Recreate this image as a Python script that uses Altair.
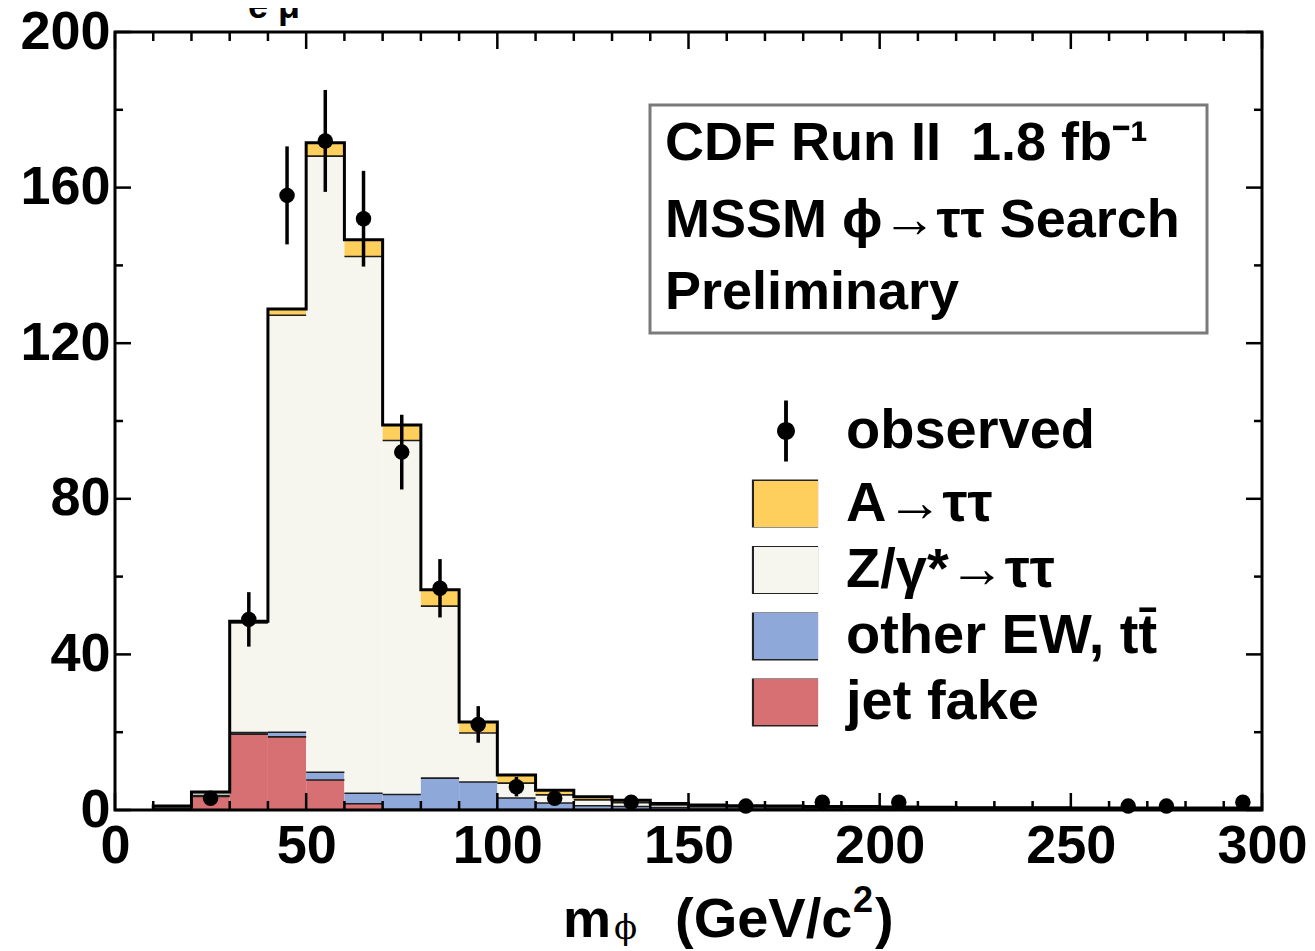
import altair as alt
import pandas as pd

# ---------------- data ----------------
bin_lo = list(range(10, 300, 10))          # 10 GeV bins from 10 to 300
jet = [0.3, 3.5, 19.5, 18.8, 7.7, 1.6, 0.2, 0.1, 0.1, 0.1, 0.1, 0.1, 0.1, 0.0, 0.0,
       0.0, 0.0, 0.0, 0.0, 0.0, 0.0, 0.0, 0.0, 0.0, 0.0, 0.0, 0.0, 0.0, 0.0]
ew = [0.2, 0.2, 0.4, 1.2, 2.0, 2.7, 3.8, 8.1, 7.1, 3.0, 1.7, 1.0, 0.8, 0.6, 0.5,
      0.5, 0.4, 0.4, 0.4, 0.3, 0.3, 0.3, 0.3, 0.3, 0.2, 0.2, 0.2, 0.2, 0.2]
ztt = [0.5, 0.8, 28.2, 107.2, 158.4, 138.0, 91.0, 44.2, 12.6, 3.8, 2.1, 1.5, 1.0, 0.7, 0.5,
       0.4, 0.4, 0.3, 0.3, 0.3, 0.2, 0.2, 0.2, 0.2, 0.2, 0.2, 0.2, 0.2, 0.2]
asig = [0.0, 0.1, 0.4, 1.6, 3.4, 4.3, 4.0, 4.2, 2.8, 2.1, 1.2, 0.8, 0.6, 0.4, 0.3,
        0.2, 0.2, 0.2, 0.2, 0.2, 0.2, 0.1, 0.1, 0.1, 0.1, 0.1, 0.1, 0.1, 0.1]

obs_x = [25, 35, 45, 55, 65, 75, 85, 95, 105, 115, 135, 165, 185, 205, 265, 275, 295]
obs_n = [3, 49, 158, 172, 152, 92, 57, 22, 6, 3, 2, 1, 2, 2, 1, 1, 2]
obs_err = [1.7, 7.0, 12.6, 13.1, 12.3, 9.6, 7.5, 4.7, 2.5, 1.7, 1.4, 1.0, 1.4, 1.4, 1.0, 1.0, 1.4]

stack_names = ["jet fake", "other EW, tt\u0304", "Z/\u03b3*\u2192\u03c4\u03c4", "A\u2192\u03c4\u03c4"]
legend_order = ["observed", "A\u2192\u03c4\u03c4", "Z/\u03b3*\u2192\u03c4\u03c4", "other EW, tt\u0304", "jet fake"]
legend_colors = ["#000000", "#FFCF5E", "#F6F6EE", "#8FA8DA", "#D77073"]

x_major = [0, 50, 100, 150, 200, 250, 300]
x_minor = [v for v in range(10, 300, 10) if v % 50 != 0]
y_major = [0, 40, 80, 120, 160, 200]
y_minor = [20, 60, 100, 140, 180]

# ---------------- derived tables ----------------
rows = []
totals = []
for i, lo in enumerate(bin_lo):
    base = 0.0
    for name, arr in zip(stack_names, [jet, ew, ztt, asig]):
        v = arr[i]
        if v > 0:
            rows.append(dict(lo=lo, hi=lo + 10, y0=base, y1=base + v, comp=name))
        base += v
    totals.append(base)
stack = pd.DataFrame(rows)
step = pd.DataFrame({"x": [bin_lo[0]] + bin_lo + [300], "t": [0.0] + totals + [totals[-1]]})
obs = pd.DataFrame({"x": obs_x, "n": obs_n,
                    "lo": [n - e for n, e in zip(obs_n, obs_err)],
                    "hi": [n + e for n, e in zip(obs_n, obs_err)]})

W, H = 1147, 778
FONT = "Liberation Sans"
xs = alt.Scale(domain=[0, 300], nice=False, zero=False)
ys = alt.Scale(domain=[0, 200], nice=False)

ax_x = alt.Axis(values=x_major, ticks=False, domain=False, grid=False, title=None,
                labelFont=FONT, labelFontSize=54, labelFontWeight="bold",
                labelColor="black", labelPadding=9, labelOverlap=False,
                labelFlush=False, labelBound=False)
ax_y = alt.Axis(values=y_major, ticks=False, domain=False, grid=False, title=None,
                labelFont=FONT, labelFontSize=54, labelFontWeight="bold",
                labelColor="black", labelPadding=5, labelOverlap=False,
                labelFlush=False, labelBound=False)


def X(f):
    return alt.X(f, scale=xs, axis=ax_x)


def Y(f):
    return alt.Y(f, scale=ys, axis=ax_y)


rect_path = "M-1,-0.72H1V0.72H-1Z"
obs_path = ("M-0.06,-0.95H0.06V0.95H-0.06Z "
            "M0.28,0A0.28,0.28 0 1 1 -0.28,0A0.28,0.28 0 1 1 0.28,0Z")

leg = alt.Legend(title=None, orient="none", legendX=638, legendY=366,
                 symbolSize=4096, symbolStrokeColor="#222222", symbolStrokeWidth=2,
                 symbolOpacity=1,
                 labelFont=FONT, labelFontSize=56, labelFontWeight="bold",
                 labelColor="black", labelOffset=27, rowPadding=5, padding=0,
                 labelLimit=800)
color_enc = alt.Color("comp:N", scale=alt.Scale(domain=legend_order, range=legend_colors),
                      legend=leg)

# legend-only layer (placed outside the drawing area)
legend_dummy = alt.Chart(pd.DataFrame({"comp": ["observed"]})).mark_point(
    filled=True, stroke="#222222", strokeWidth=2).encode(
    x=alt.value(-3000), y=alt.value(-3000),
    color=color_enc,
    shape=alt.Shape("comp:N", scale=alt.Scale(domain=legend_order,
                                              range=[obs_path] + [rect_path] * 4),
                    legend=leg),
)

bars = alt.Chart(stack).mark_rect().encode(
    x=X("lo:Q"), x2="hi:Q", y=Y("y0:Q"), y2="y1:Q", color=color_enc)

tops = alt.Chart(stack).mark_rule(color="#1e1e1e", strokeWidth=1.6).encode(
    x=X("lo:Q"), x2="hi:Q", y=Y("y1:Q"))

outline = alt.Chart(step).mark_line(interpolate="step-after", color="black",
                                    strokeWidth=3).encode(x=X("x:Q"), y=Y("t:Q"))

errs = alt.Chart(obs).mark_rule(color="black", strokeWidth=3.5).encode(
    x=X("x:Q"), y=Y("lo:Q"), y2="hi:Q")

pts = alt.Chart(obs).mark_circle(color="black", opacity=1, size=240).encode(
    x=X("x:Q"), y=Y("n:Q"))


def xticks(vals, length):
    d = pd.DataFrame({"v": vals})
    base = alt.Chart(d).mark_rule(color="black", strokeWidth=2.5)
    return [base.encode(x=X("v:Q"), y=alt.value(H), y2=alt.value(H - length)),
            base.encode(x=X("v:Q"), y=alt.value(0), y2=alt.value(length))]


def yticks(vals, length):
    d = pd.DataFrame({"v": vals})
    base = alt.Chart(d).mark_rule(color="black", strokeWidth=2.5)
    return [base.encode(y=Y("v:Q"), x=alt.value(0), x2=alt.value(length)),
            base.encode(y=Y("v:Q"), x=alt.value(W), x2=alt.value(W - length))]


one = pd.DataFrame({"a": [0]})


def txt(s, x, y, size, weight="bold", font=FONT, align="left", baseline="alphabetic"):
    return alt.Chart(one).mark_text(text=s, font=font, fontSize=size, fontWeight=weight,
                                    color="black", align=align, baseline=baseline).encode(
        x=alt.value(x), y=alt.value(y))


def outline_box(x, x2, y, y2, color, width):
    return alt.Chart(one).mark_rect(fill="white", fillOpacity=0, stroke=color,
                                    strokeWidth=width).encode(
        x=alt.value(x), x2=alt.value(x2), y=alt.value(y), y2=alt.value(y2))


box = alt.Chart(one).mark_rect(fill="white", stroke="#7a7a7a", strokeWidth=3).encode(
    x=alt.value(535), x2=alt.value(1092), y=alt.value(73), y2=alt.value(301))

frame = outline_box(0, W, 0, H, "black", 3)

# dark outlines round the legend's colour swatches
swatch_frames = [outline_box(638, 702, c - 23, c + 23, "#222222", 2.2)
                 for c in (471.5, 538, 604.5, 670.5)]

texts = [
    txt("CDF Run II\u00a0\u00a01.8 fb\u207b\u00b9", 550, 128, 54),
    txt("MSSM \u03d5\u2192\u03c4\u03c4 Search", 550, 205, 54),
    txt("Preliminary", 550, 277, 54),
    txt("m", 448, 905, 54),
    txt("\u03d5", 499, 907, 34, weight="normal", font="DejaVu Serif"),
    txt("(GeV/c", 560, 905, 56),
    txt("2", 738, 880, 36),
    txt(")", 760, 905, 56),
    txt("e   \u03bc", 133, -14, 36),
]

layers = [legend_dummy, bars, tops, outline, errs, pts] + xticks(x_major, 17) \
    + xticks(x_minor, 9) + yticks(y_major, 16) + yticks(y_minor, 8) + [box, frame] \
    + swatch_frames + texts

chart = alt.layer(*layers).properties(
    width=W, height=H,
    autosize=alt.AutoSizeParams(type="none"),
    padding={"left": 107, "top": 24, "right": 45, "bottom": 141},
).configure_view(strokeWidth=0).configure(background="white")

chart.save("out.html", embed_options={"renderer": "svg", "actions": False})
